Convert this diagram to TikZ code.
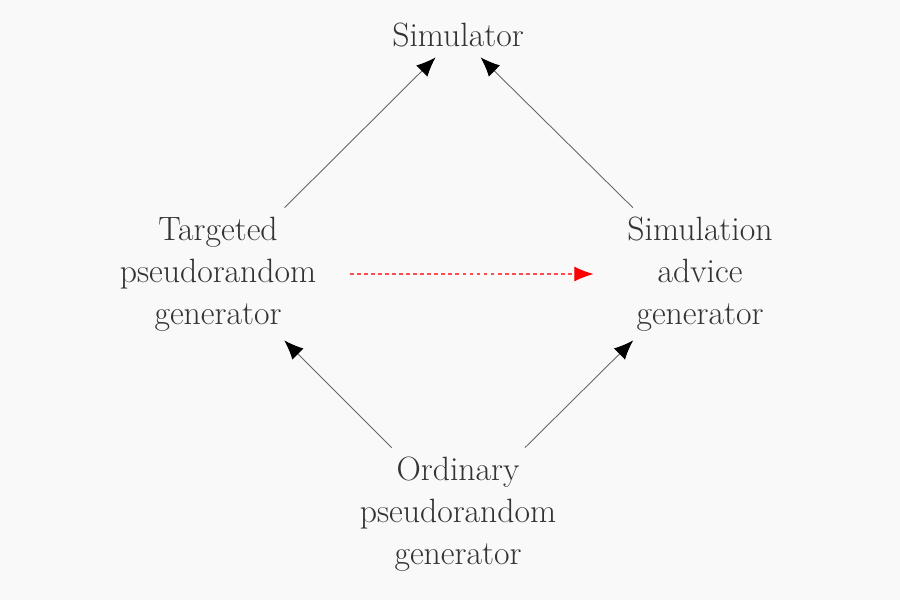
\documentclass[tikz,border=0pt]{standalone}
\usetikzlibrary{arrows.meta}
\definecolor{bg}{HTML}{F9F9F9}
\definecolor{txt}{HTML}{333333}
\begin{document}
\begin{tikzpicture}[x=0.02cm,y=-0.02cm,
  lbl/.style={align=center,text=txt,font=\fontsize{19.2}{23.8}\selectfont,inner xsep=0.67cm,inner ysep=0pt},
  three/.style={lbl,minimum height=2.64cm},
  one/.style={lbl,minimum height=0.88cm},
  arr/.style={draw=black!60,line width=0.5pt,-{Latex[length=11pt,width=9pt,fill=black,color=black]}},
  redarr/.style={draw=red!70,line width=0.6pt,dash pattern=on 2.2pt off 1.8pt,-{Latex[length=11pt,width=8.5pt,fill=red,color=red]}}]
\fill[bg] (0,0) rectangle (900,600);
\useasboundingbox (0,0) rectangle (900,600);
\node[one] (sim) at (458,35) {Simulator};
\node[three] (tpg) at (218,274) {Targeted\\pseudorandom\\generator};
\node[three] (sag) at (700,274) {Simulation\\advice\\generator};
\node[three] (opg) at (458,514) {Ordinary\\pseudorandom\\generator};
\draw[arr] (tpg) -- (sim);
\draw[arr] (sag) -- (sim);
\draw[arr] (opg) -- (tpg);
\draw[arr] (opg) -- (sag);
\draw[redarr] (tpg) -- (sag);
\end{tikzpicture}
\end{document}
